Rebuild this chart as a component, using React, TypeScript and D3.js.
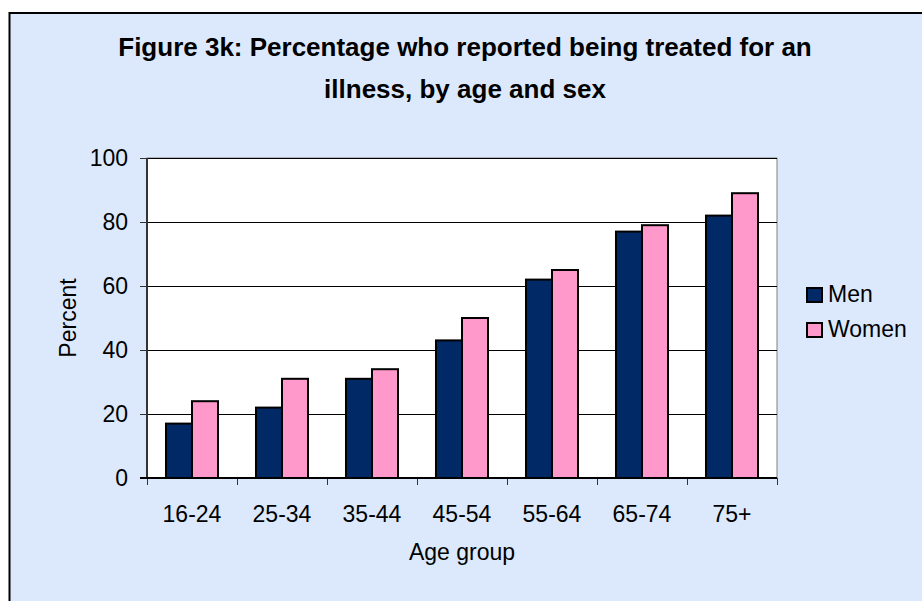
import React from "react";
import * as d3 from "d3";

const categories = ["16-24", "25-34", "35-44", "45-54", "55-64", "65-74", "75+"];
const menValues = [17, 22, 31, 43, 62, 77, 82];
const womenValues = [24, 31, 34, 50, 65, 79, 89];
const seriesNames = ["Men", "Women"];
const seriesColors = ["#002966", "#ff99cc"];
const yTicks = [0, 20, 40, 60, 80, 100];

const W = 922, H = 601;
const plot = { left: 147, right: 777, top: 158, bottom: 478 };
const FONT = "Liberation Sans, Arial, sans-serif";
const FS = 23;

export default function App() {
  const x = d3.scaleBand<string>().domain(categories).range([plot.left, plot.right]);
  const inner = d3.scaleBand<string>().domain(seriesNames).range([0, x.bandwidth()]).paddingInner(0).paddingOuter(0.73);
  const y = d3.scaleLinear().domain([0, 100]).range([plot.bottom, plot.top]);
  const series = [menValues, womenValues];

  return (
    <svg width={W} height={H} style={{ position: "absolute", left: 0, top: 0 }} fontFamily={FONT}>
      <rect x={0} y={0} width={W} height={H} fill="#ffffff" />
      <rect x={9.5} y={13} width={W + 10} height={H + 10} fill="#dce9fd" stroke="#000" strokeWidth={2} />
      <text x={465} y={56} textAnchor="middle" fontSize={26} fontWeight="bold">Figure 3k: Percentage who reported being treated for an</text>
      <text x={465} y={98} textAnchor="middle" fontSize={26} fontWeight="bold">illness, by age and sex</text>

      <rect x={plot.left} y={plot.top} width={plot.right - plot.left} height={plot.bottom - plot.top} fill="#fff" stroke="#808080" strokeWidth={1} />
      {yTicks.map(t => (
        <g key={t}>
          {t > 0 && <line x1={plot.left} x2={plot.right} y1={Math.round(y(t)) + 0.5} y2={Math.round(y(t)) + 0.5} stroke="#000" strokeWidth={1} />}
          <line x1={plot.left - 7} x2={plot.left} y1={Math.round(y(t)) + 0.5} y2={Math.round(y(t)) + 0.5} stroke="#333" strokeWidth={1} />
          <text x={plot.left - 19} y={y(t)} dy="0.35em" textAnchor="end" fontSize={FS}>{t}</text>
        </g>
      ))}

      {categories.map((c, i) => (
        <g key={c}>
          {series.map((vals, s) => (
            <rect key={s}
              x={(x(c) as number) + (inner(seriesNames[s]) as number)}
              y={y(vals[i])}
              width={inner.bandwidth()}
              height={plot.bottom - y(vals[i])}
              fill={seriesColors[s]} stroke="#000" strokeWidth={2} />
          ))}
          <text x={(x(c) as number) + x.bandwidth() / 2} y={plot.bottom + 44} textAnchor="middle" fontSize={FS}>{c}</text>
        </g>
      ))}
      {d3.range(categories.length + 1).map(i => {
        const xx = Math.round(plot.left + i * x.step()) + 0.5;
        return <line key={i} x1={xx} x2={xx} y1={plot.bottom} y2={plot.bottom + 7} stroke="#333" strokeWidth={1} />;
      })}
      <line x1={plot.left} x2={plot.left} y1={plot.top} y2={plot.bottom} stroke="#333" strokeWidth={2} />
      <line x1={plot.left - 7} x2={plot.right} y1={plot.bottom} y2={plot.bottom} stroke="#000" strokeWidth={2} />

      <text x={462} y={560} textAnchor="middle" fontSize={FS}>Age group</text>
      <text transform={`translate(76,318) rotate(-90)`} textAnchor="middle" fontSize={FS}>Percent</text>

      {seriesNames.map((n, s) => (
        <g key={n}>
          <rect x={807} y={288 + s * 35} width={15} height={14} fill={seriesColors[s]} stroke="#000" strokeWidth={2} />
          <text x={828} y={302 + s * 35} fontSize={FS}>{n}</text>
        </g>
      ))}
    </svg>
  );
}
